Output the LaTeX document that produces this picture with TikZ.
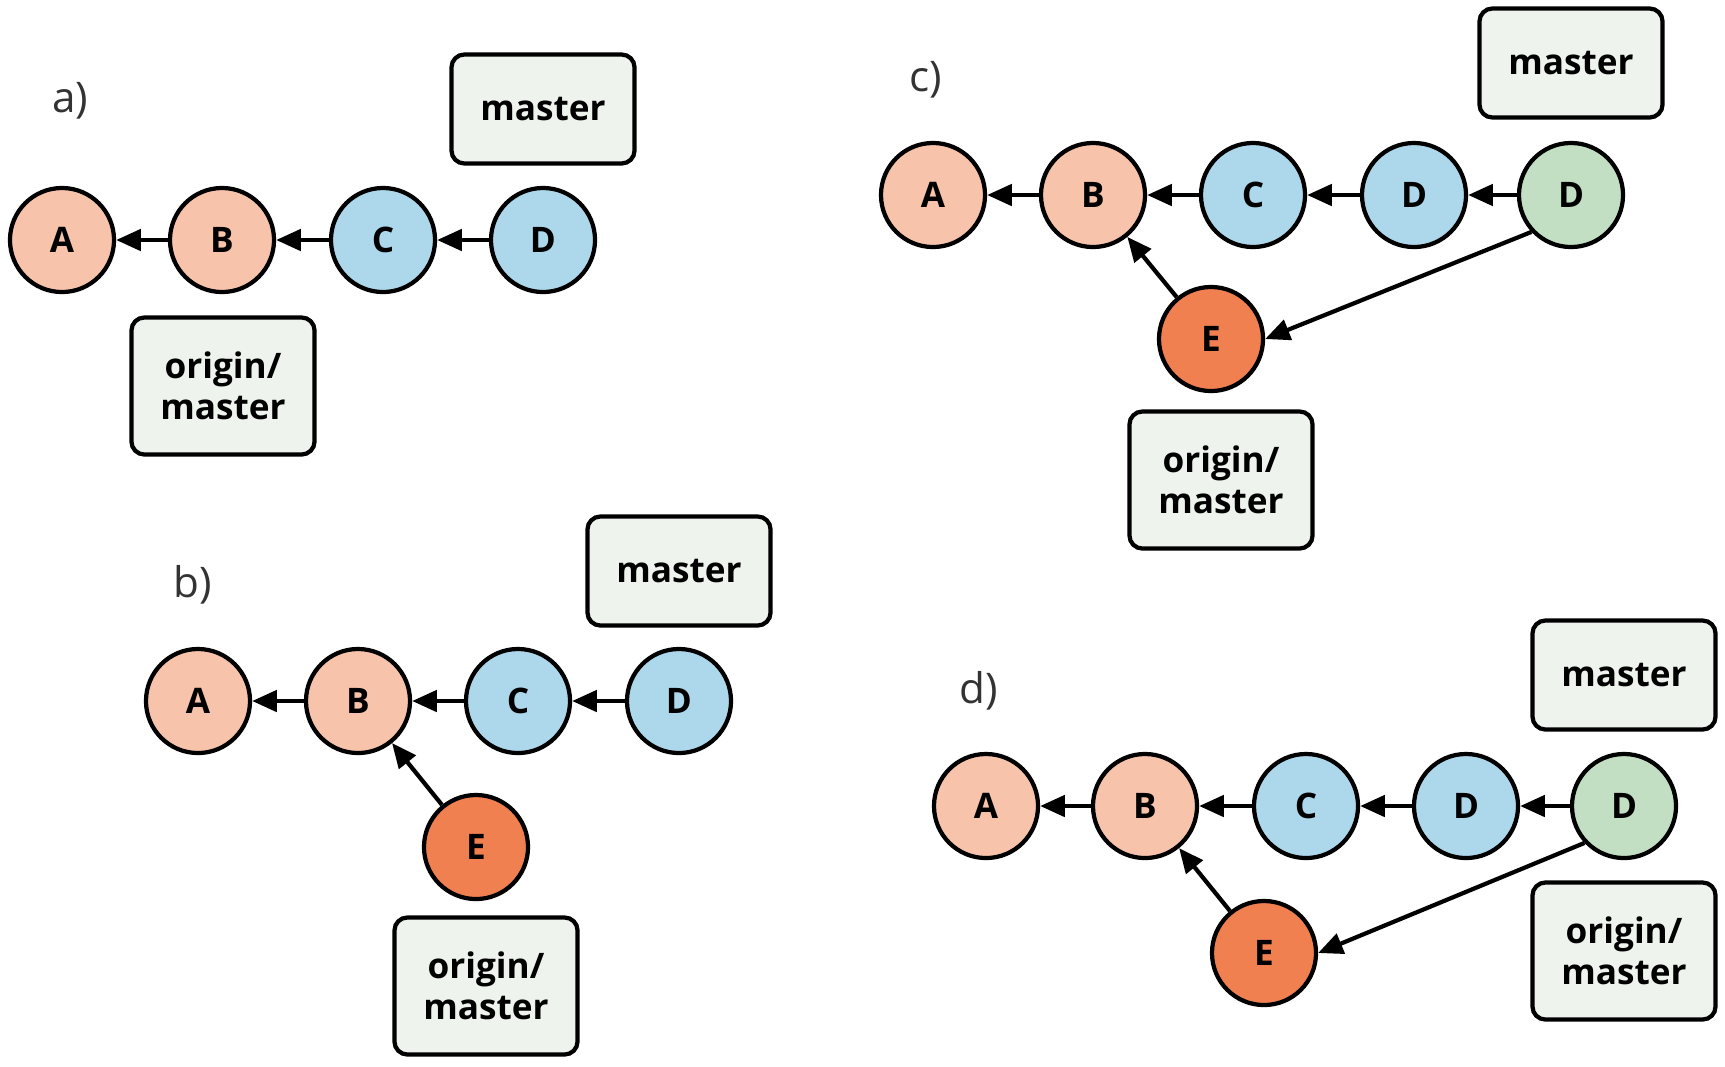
\documentclass[tikz,border=0pt]{standalone}
\usepackage{fontspec}
\setmainfont{Open Sans}
\usetikzlibrary{arrows.meta}
\definecolor{oldc}{RGB}{247,196,171}
\definecolor{newc}{RGB}{173,216,236}
\definecolor{mrgc}{RGB}{194,223,196}
\definecolor{locc}{RGB}{240,128,80}
\definecolor{boxc}{RGB}{238,243,238}

\begin{document}
\begin{tikzpicture}[x=0.01cm, y=-0.01cm, >={Triangle[length=7pt,width=6pt]}, line width=1.2pt,
  commit/.style={circle, draw, line width=1.2pt, minimum size=1.04cm, inner sep=0pt, font=\fontsize{10}{12}\selectfont\bfseries},
  refbox/.style={rectangle, draw, rounded corners=0.13cm, fill=boxc, line width=1.2pt, minimum width=1.83cm, minimum height=1.09cm, align=center, font=\fontsize{10}{11.6}\selectfont\bfseries},
  orbox/.style={refbox, minimum height=1.37cm},
  tag/.style={font=\fontsize{12}{14}\selectfont, text=black!80}]
  \useasboundingbox (0,0) rectangle (1725,1066);
  % a)
  \node [tag] (la) at (70,101) {a)};
  \node [refbox] (aM) at (543,109) {master};
  \node [commit, fill=oldc] (aA) at (62,240) {A};
  \node [commit, fill=oldc] (aB) at (222,240) {B};
  \node [commit, fill=newc] (aC) at (383,240) {C};
  \node [commit, fill=newc] (aD) at (543,240) {D};
  \node [orbox] (aO) at (223,386) {origin/\\master};
  \draw [->] (aB) -- (aA);
  \draw [->] (aC) -- (aB);
  \draw [->] (aD) -- (aC);
  % b)
  \node [tag] (lb) at (193,585) {b)};
  \node [refbox] (bM) at (679,571) {master};
  \node [commit, fill=oldc] (bA) at (198,701) {A};
  \node [commit, fill=oldc] (bB) at (358,701) {B};
  \node [commit, fill=newc] (bC) at (518,701) {C};
  \node [commit, fill=newc] (bD) at (679,701) {D};
  \node [commit, fill=locc] (bE) at (476,847) {E};
  \node [orbox] (bO) at (486,986) {origin/\\master};
  \draw [->] (bB) -- (bA);
  \draw [->] (bC) -- (bB);
  \draw [->] (bD) -- (bC);
  \draw [->] (bE) -- (bB);
  % c)
  \node [tag] (lc) at (926,80) {c)};
  \node [refbox] (cM) at (1571,63) {master};
  \node [commit, fill=oldc] (cA) at (933,195) {A};
  \node [commit, fill=oldc] (cB) at (1093,195) {B};
  \node [commit, fill=newc] (cC) at (1253,195) {C};
  \node [commit, fill=newc] (cD) at (1414,195) {D};
  \node [commit, fill=mrgc] (cDD) at (1571,195) {D};
  \node [commit, fill=locc] (cE) at (1211,339) {E};
  \node [orbox] (cO) at (1221,480) {origin/\\master};
  \draw [->] (cB) -- (cA);
  \draw [->] (cC) -- (cB);
  \draw [->] (cD) -- (cC);
  \draw [->] (cDD) -- (cD);
  \draw [->] (cE) -- (cB);
  \draw [->] (cDD.-137) -- (cE.east);
  % d)
  \node [tag] (ld) at (979,691) {d)};
  \node [refbox] (dM) at (1624,675) {master};
  \node [commit, fill=oldc] (dA) at (986,806) {A};
  \node [commit, fill=oldc] (dB) at (1145,806) {B};
  \node [commit, fill=newc] (dC) at (1306,806) {C};
  \node [commit, fill=newc] (dD) at (1466,806) {D};
  \node [commit, fill=mrgc] (dDD) at (1624,806) {D};
  \node [commit, fill=locc] (dE) at (1264,953) {E};
  \node [orbox] (dO) at (1624,951) {origin/\\master};
  \draw [->] (dB) -- (dA);
  \draw [->] (dC) -- (dB);
  \draw [->] (dD) -- (dC);
  \draw [->] (dDD) -- (dD);
  \draw [->] (dE) -- (dB);
  \draw [->] (dDD.-137) -- (dE.east);
\end{tikzpicture}
\end{document}
